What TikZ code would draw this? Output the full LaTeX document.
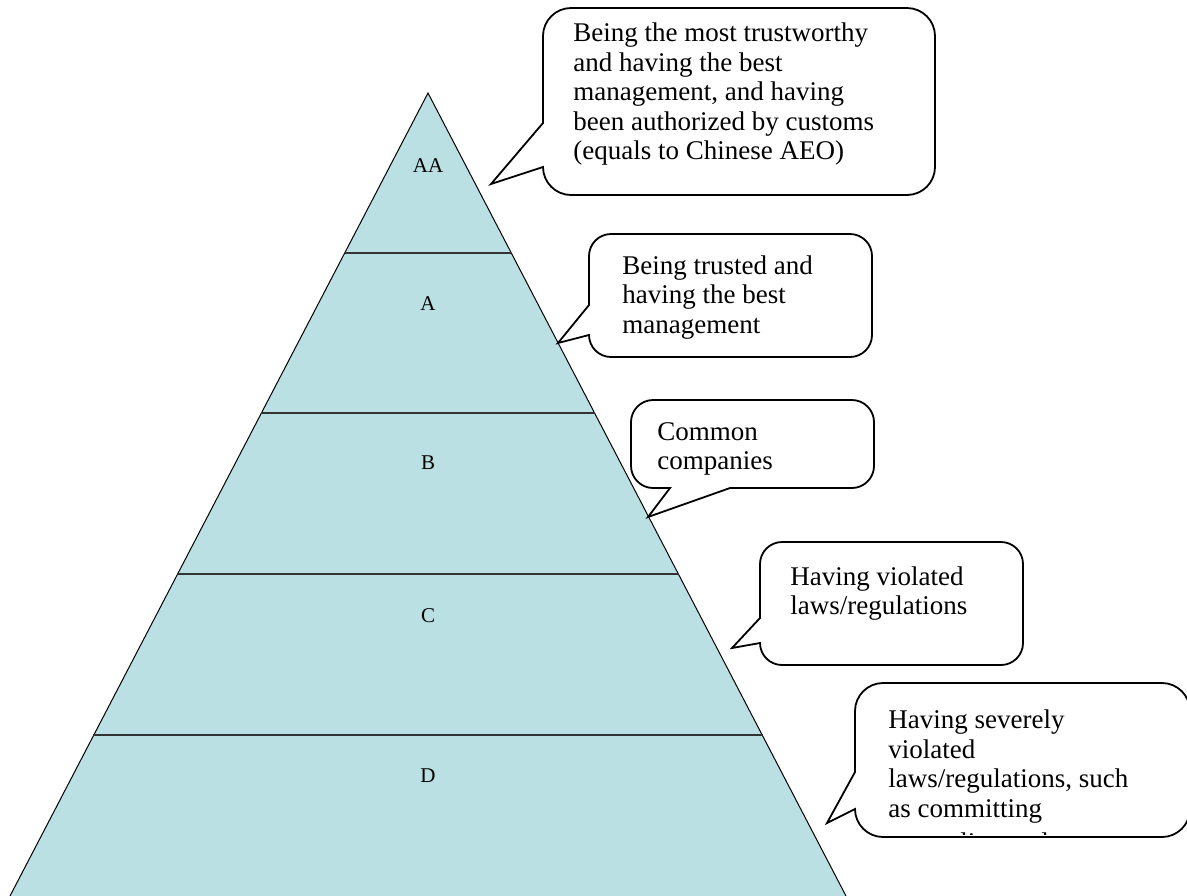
\documentclass[tikz,border=0pt]{standalone}
\usepackage{fontspec}
\setmainfont{Liberation Serif}
\definecolor{pyrfill}{HTML}{BBE0E3}
\tikzset{
  callout/.style={draw=black, fill=white, line width=0.9pt, line join=miter},
  ctext/.style={anchor=base west, inner sep=0pt, font=\fontsize{13.5}{16}\selectfont},
  lvl/.style={anchor=base, inner sep=0pt, font=\fontsize{10.5}{12}\selectfont},
  divline/.style={draw=black!80, line width=1pt},
  pyredge/.style={draw=black, line width=0.5pt}
}
% x0 y0 x1 y1 yb1 yb2 tx ty r  (pointer on left side)
\newcommand\calloutLeft[9]{%
  \draw[callout] (#7,#8) -- (#1,#5) -- (#1,{#2+#9})
    .. controls (#1,{#2+0.45*#9}) and ({#1+0.45*#9},#2) .. ({#1+#9},#2)
    -- ({#3-#9},#2)
    .. controls ({#3-0.45*#9},#2) and (#3,{#2+0.45*#9}) .. (#3,{#2+#9})
    -- (#3,{#4-#9})
    .. controls (#3,{#4-0.45*#9}) and ({#3-0.45*#9},#4) .. ({#3-#9},#4)
    -- ({#1+#9},#4)
    .. controls ({#1+0.45*#9},#4) and (#1,{#4-0.45*#9}) .. (#1,{#4-#9})
    -- (#1,#6) -- cycle;}
\begin{document}
\begin{tikzpicture}[x=0.5pt,y=-0.5pt]
\useasboundingbox (0,0) rectangle (1187,895);
\clip (0,0) rectangle (1187,895);
% pyramid
\coordinate (apex) at (428,93);
\coordinate (bl) at (10,896);
\coordinate (br) at (846,896);
\fill[pyrfill] (apex) -- (br) -- (bl) -- cycle;
\draw[pyredge] (bl) -- (apex) -- (br);
\coordinate (l1) at (345,253); \coordinate (r1) at (511,253);
\coordinate (l2) at (261,413); \coordinate (r2) at (595,413);
\coordinate (l3) at (177,574); \coordinate (r3) at (679,574);
\coordinate (l4) at (93,735);  \coordinate (r4) at (763,735);
\draw[divline] (l1) -- (r1);
\draw[divline] (l2) -- (r2);
\draw[divline] (l3) -- (r3);
\draw[divline] (l4) -- (r4);
\node[lvl] (AA) at (428,172) {AA};
\node[lvl] (A) at (428,310) {A};
\node[lvl] (B) at (428,469) {B};
\node[lvl] (C) at (428,622) {C};
\node[lvl] (D) at (428,782) {D};
% callouts
\calloutLeft{543}{8}{935}{195}{123}{167}{491}{184}{28}
\calloutLeft{589}{234}{872}{357}{305}{335}{558}{343}{22}
\draw[callout] (648,517) -- (670,488) -- (653,488)
  .. controls (641,488) and (631,478) .. (631,466) -- (631,422)
  .. controls (631,410) and (641,400) .. (653,400) -- (852,400)
  .. controls (864,400) and (874,410) .. (874,422) -- (874,466)
  .. controls (874,478) and (864,488) .. (852,488) -- (730,488) -- cycle;
\calloutLeft{760}{542}{1023}{665}{618}{643}{732}{648}{22}
\calloutLeft{855}{683}{1190}{837}{772}{809}{827}{823}{28}
% texts
\node[ctext] (t1a) at (573,41) {Being the most trustworthy};
\node[ctext] (t1b) at (573,71) {and having the best};
\node[ctext] (t1c) at (573,100) {management, and having};
\node[ctext] (t1d) at (573,130) {been authorized by customs};
\node[ctext] (t1e) at (573,159) {(equals to Chinese AEO)};
\node[ctext] (t2a) at (622,274) {Being trusted and};
\node[ctext] (t2b) at (622,303) {having the best};
\node[ctext] (t2c) at (622,333) {management};
\node[ctext] (t3a) at (657,440) {Common};
\node[ctext] (t3b) at (657,469) {companies};
\node[ctext] (t4a) at (790,585) {Having violated};
\node[ctext] (t4b) at (790,614) {laws/regulations};
\begin{scope}
\clip (856,684) rectangle (1187,834);
\node[ctext] (t5a) at (888,728) {Having severely};
\node[ctext] (t5b) at (888,758) {violated};
\node[ctext] (t5c) at (888,787) {laws/regulations, such};
\node[ctext] (t5d) at (888,817) {as committing};
\node[ctext] (t5e) at (888,851) {smuggling and};
\end{scope}
\end{tikzpicture}
\end{document}
